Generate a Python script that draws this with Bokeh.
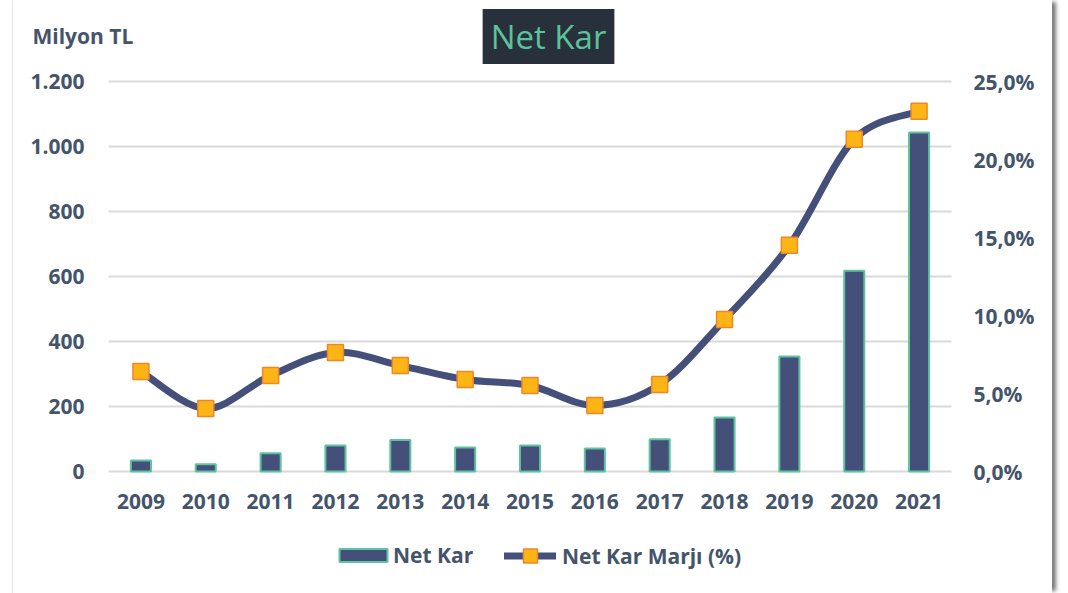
import numpy as np
from bokeh.plotting import figure
from bokeh.models import (ColumnDataSource, Range1d, LinearAxis, FixedTicker,
                          Label, Legend, LegendItem, Span)
from bokeh.embed import file_html
from bokeh.resources import INLINE

# ---------------- data ----------------
years = ["2009", "2010", "2011", "2012", "2013", "2014", "2015",
         "2016", "2017", "2018", "2019", "2020", "2021"]
net_kar = [34, 22, 56, 80, 97, 74, 80, 71, 99, 166, 354, 618, 1043]          # Milyon TL
net_kar_marji = [6.41, 4.04, 6.15, 7.63, 6.79, 5.90, 5.51, 4.23, 5.58,
                 9.74, 14.5, 21.3, 23.1]                                       # %
left_ticks = [0, 200, 400, 600, 800, 1000, 1200]
left_tick_labels = ["0", "200", "400", "600", "800", "1.000", "1.200"]
right_ticks = [0, 5, 10, 15, 20, 25]
right_tick_labels = ["0,0%", "5,0%", "10,0%", "15,0%", "20,0%", "25,0%"]

TEXT = "#44546A"
BAR = "#44507A"
BAR_EDGE = "#5EC4A0"
MARK = "#FDB515"
MARK_EDGE = "#F0862A"
FONT = "Open Sans"

# ---------------- layout (pixels of the canvas) ----------------
W, H = 1052, 593
PL, PR, PT, PB = 108, 951, 81, 471          # plot area edges
n = len(years)
x_lo, x_hi = -0.5, n - 0.5
y_lo, y_hi = left_ticks[0], left_ticks[-1]
r_lo, r_hi = right_ticks[0], right_ticks[-1]

def extend(lo, hi, a, b, size):
    """data range covering the whole canvas so that lo->a px and hi->b px"""
    k = (hi - lo) / (b - a)
    return lo - a * k, hi + (size - b) * k

xr = extend(x_lo, x_hi, PL, PR, W)
yr = extend(y_lo, y_hi, H - PB, H - PT, H)
rr = extend(r_lo, r_hi, H - PB, H - PT, H)

p = figure(width=W, height=H, output_backend="svg", toolbar_location=None,
           x_range=Range1d(*xr), y_range=Range1d(*yr), min_border=0)
p.title.visible = False
p.extra_y_ranges = {"pct": Range1d(*rr)}
p.outline_line_color = None
p.background_fill_color = "white"
p.border_fill_color = "white"
p.styles = {"box-shadow": "6px 0px 4px -2px #7a7a7a"}
p.xgrid.grid_line_color = None
p.ygrid.grid_line_color = None

def style_axis(ax):
    ax.axis_line_color = None
    ax.major_tick_line_color = None
    ax.minor_tick_line_color = None
    ax.major_label_text_color = TEXT
    ax.major_label_text_font = FONT
    ax.major_label_text_font_style = "bold"
    ax.major_label_text_font_size = "21px"

p.xaxis.ticker = FixedTicker(ticks=list(range(n)))
p.xaxis.major_label_overrides = {i: y for i, y in enumerate(years)}
p.xaxis.major_label_standoff = 16
p.xaxis.fixed_location = y_lo
style_axis(p.xaxis[0])

p.yaxis.ticker = FixedTicker(ticks=left_ticks)
p.yaxis.major_label_overrides = {t: l for t, l in zip(left_ticks, left_tick_labels)}
p.yaxis.major_label_standoff = 18
p.yaxis.fixed_location = x_lo
style_axis(p.yaxis[0])

ax_r = LinearAxis(y_range_name="pct", ticker=FixedTicker(ticks=right_ticks),
                  fixed_location=x_hi)
ax_r.major_label_overrides = {t: l for t, l in zip(right_ticks, right_tick_labels)}
ax_r.major_label_standoff = 16
style_axis(ax_r)
p.add_layout(ax_r, "right")

# card edge
p.add_layout(Span(location=12, location_units="screen", dimension="height",
                  line_color="#e6e6e6", line_width=1))

# gridlines of the left axis, across the plot area only
p.segment(x0=[x_lo] * len(left_ticks), x1=[x_hi] * len(left_ticks),
          y0=left_ticks, y1=left_ticks, line_color="#d9d9d9", line_width=2,
          level="underlay")

# bars
xs = np.arange(n, dtype=float)
src = ColumnDataSource(dict(x=xs, net=net_kar, pct=net_kar_marji))
bars = p.vbar(x="x", top="net", bottom=y_lo, width=0.31, source=src, fill_color=BAR,
              line_color=BAR_EDGE, line_width=2)

# smooth line (Excel-style bezier through the data points)
pts = np.column_stack([xs, np.array(net_kar_marji, dtype=float)])
prev = np.vstack([pts[:1], pts[:-1]])
nxt = np.vstack([pts[1:], pts[-1:]])
c1 = pts[:-1] + (nxt[:-1] - prev[:-1]) / 6.0
c2 = pts[1:] - (nxt[1:] - prev[1:]) / 6.0
bsrc = ColumnDataSource(dict(x0=pts[:-1, 0], y0=pts[:-1, 1], x1=pts[1:, 0], y1=pts[1:, 1],
                             cx0=c1[:, 0], cy0=c1[:, 1], cx1=c2[:, 0], cy1=c2[:, 1]))
curve = p.bezier(x0="x0", y0="y0", x1="x1", y1="y1", cx0="cx0", cy0="cy0",
                 cx1="cx1", cy1="cy1", source=bsrc, line_color=BAR, line_width=7,
                 line_cap="round", y_range_name="pct")
marks = p.scatter(x="x", y="pct", source=src, marker="square", size=16,
                  fill_color=MARK, line_color=MARK_EDGE, line_width=1.5,
                  y_range_name="pct")

# legends (two, so each swatch gets its own size)
leg_style = dict(orientation="horizontal", padding=0, margin=0, border_line_alpha=0,
                 background_fill_alpha=0, label_text_font=FONT,
                 label_text_font_style="bold", label_text_font_size="21px",
                 label_text_color=TEXT)
leg1 = Legend(items=[LegendItem(label="Net Kar", renderers=[bars])],
              location=(333, 24), glyph_width=60, glyph_height=16, label_standoff=0,
              **leg_style)
leg2 = Legend(items=[LegendItem(label="Net Kar Marjı (%)", renderers=[curve, marks])],
              location=(504, 20), glyph_width=52, glyph_height=35, label_standoff=6,
              **leg_style)
p.add_layout(leg1, "center")
p.add_layout(leg2, "center")

# title box and unit label
p.add_layout(Label(x=548, y=H - 36, x_units="screen", y_units="screen", text="Net Kar",
                   text_align="center", text_baseline="middle", text_font=FONT,
                   text_font_size="33px", text_color="#5CC29A",
                   background_fill_color="#28303B", padding=(8, 5)))
p.add_layout(Label(x=32, y=H - 35, x_units="screen", y_units="screen", text="Milyon TL",
                   text_align="left", text_baseline="middle", text_font=FONT,
                   text_font_style="bold", text_font_size="21px", text_color=TEXT))

open("out.html", "w").write(file_html(p, INLINE))
